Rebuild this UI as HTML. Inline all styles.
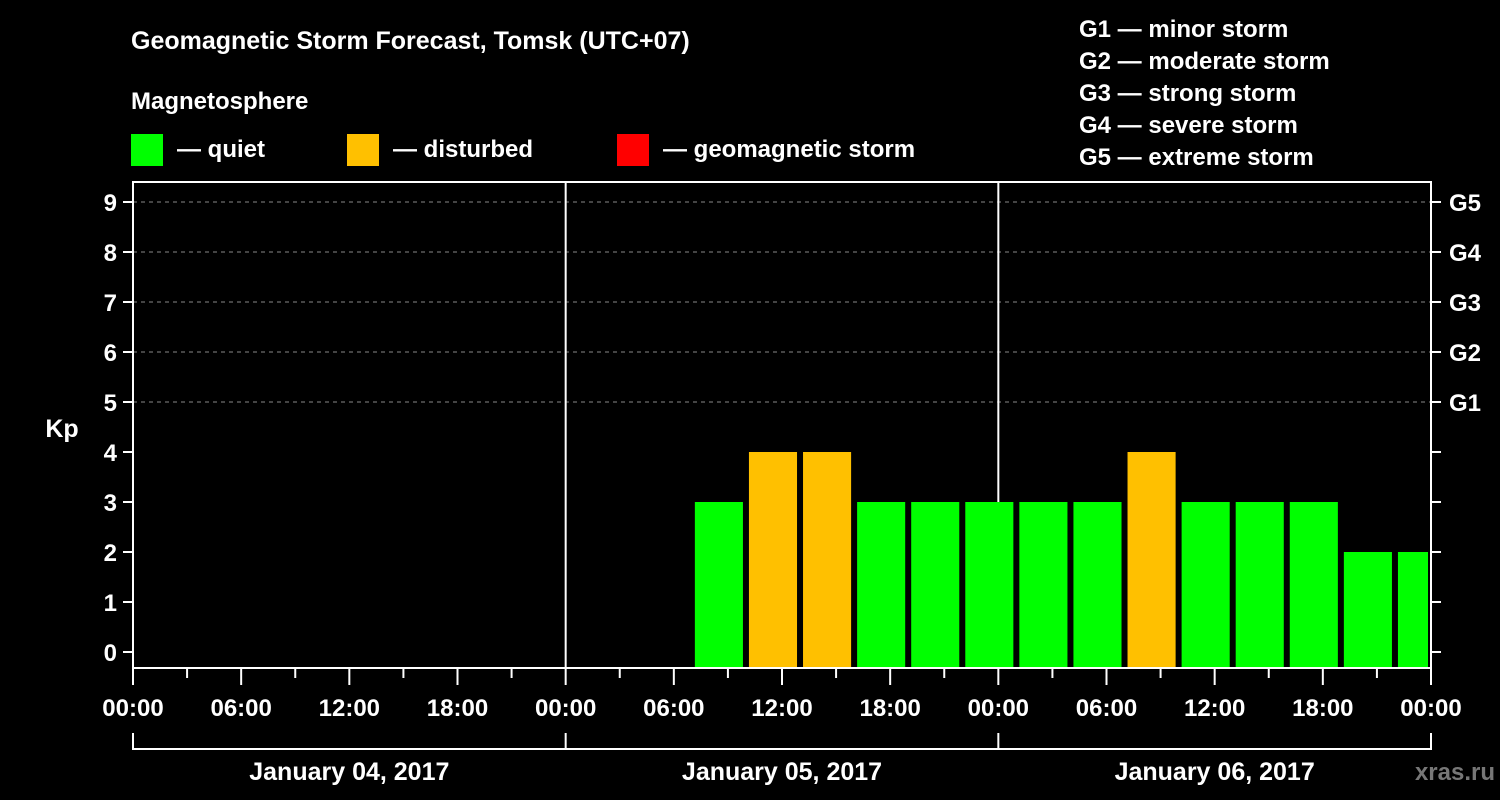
<!DOCTYPE html>
<html><head><meta charset="utf-8"><style>
html,body{margin:0;padding:0;background:#000;}
svg{display:block;font-family:"Liberation Sans",Arial,sans-serif;font-weight:bold;}
</style></head><body>
<svg width="1500" height="800" viewBox="0 0 1500 800" id="chart">
<rect x="0" y="0" width="1500" height="800" fill="#000"/>
<text x="131" y="49" fill="#fff" font-size="25">Geomagnetic Storm Forecast, Tomsk (UTC+07)</text>
<text x="131" y="109" fill="#fff" font-size="24">Magnetosphere</text>
<g><rect x="131" y="134" width="32" height="32" fill="#00ff00"/><text x="177" y="157" fill="#fff" font-size="24">— quiet</text></g>
<g><rect x="347" y="134" width="32" height="32" fill="#ffc000"/><text x="393" y="157" fill="#fff" font-size="24">— disturbed</text></g>
<g><rect x="617" y="134" width="32" height="32" fill="#ff0000"/><text x="663" y="157" fill="#fff" font-size="24">— geomagnetic storm</text></g>
<g font-size="24" fill="#fff">
<text x="1079" y="37">G1 — minor storm</text>
<text x="1079" y="69">G2 — moderate storm</text>
<text x="1079" y="101">G3 — strong storm</text>
<text x="1079" y="133">G4 — severe storm</text>
<text x="1079" y="165">G5 — extreme storm</text>
</g>
<text x="62" y="437" fill="#fff" font-size="25" text-anchor="middle">Kp</text>
<g id="grid"></g>
<g id="bars"></g>
<g id="axes"></g>
<text x="1495" y="780" fill="#777" font-size="24" text-anchor="end">xras.ru</text>
</svg>
<script>
const kpValues = [3,4,4,3,3,3,3,3,4,3,3,3,2,2];
const startHour = 31; // first 3h slot begins Jan 05 07:00 local (hours from Jan 04 00:00)
const yTicks = [0,1,2,3,4,5,6,7,8,9];
const gLabels = ["G1","G2","G3","G4","G5"];
const xLabels = ["00:00","06:00","12:00","18:00","00:00","06:00","12:00","18:00","00:00","06:00","12:00","18:00","00:00"];
const dateLabels = ["January 04, 2017","January 05, 2017","January 06, 2017"];

const NS="http://www.w3.org/2000/svg";
const X0=133,X1=1431,YT=182,YB=668;
const x=h=>X0+(h/72)*(X1-X0);
const y=v=>652-v*50;
function mk(tag,attrs,parent){const e=document.createElementNS(NS,tag);for(const k in attrs)e.setAttribute(k,attrs[k]);parent.appendChild(e);return e;}
const grid=document.getElementById('grid'),bars=document.getElementById('bars'),axes=document.getElementById('axes');

for(let v=5;v<=9;v++){
  const l=mk('line',{x1:X0,x2:X1,y1:y(v),y2:y(v),stroke:'#888','stroke-width':1,'stroke-dasharray':'4,4'},grid);
  
  
}
[24,48].forEach(h=>{
  const l=mk('line',{x1:x(h),x2:x(h),y1:YT,y2:YB,stroke:'#fff','stroke-width':2},grid);
  
  
});

kpValues.forEach((v,i)=>{
  const h0=startHour+i*3;
  const xa=x(h0)+3;
  const xb=Math.min(x(h0+3)-3,x(72)-3);
  const col=v>=5?'#ff0000':(v>=4?'#ffc000':'#00ff00');
  const r=mk('rect',{x:xa,y:y(v),width:xb-xa,height:YB-1-y(v),fill:col},bars);
  
  
});

const frame=mk('rect',{x:X0,y:YT,width:X1-X0,height:YB-YT,fill:'none',stroke:'#fff','stroke-width':2},axes);



yTicks.forEach(v=>{
  mk('line',{x1:X0-10,x2:X0,y1:y(v),y2:y(v),stroke:'#fff','stroke-width':2},axes);
  mk('line',{x1:X1,x2:X1+10,y1:y(v),y2:y(v),stroke:'#fff','stroke-width':2},axes);
  const t=mk('text',{x:117,y:y(v)+9,fill:'#fff','font-size':24,'text-anchor':'end'},axes);
  t.textContent=v;
  
  
});
gLabels.forEach((g,i)=>{
  const t=mk('text',{x:1449,y:y(5+i)+9,fill:'#fff','font-size':24},axes);
  t.textContent=g;
  
  
});
for(let h=0;h<=72;h+=3){
  const major=h%6===0;
  mk('line',{x1:x(h),x2:x(h),y1:YB,y2:major?685:678,stroke:'#fff','stroke-width':2},axes);
}
xLabels.forEach((s,i)=>{
  const t=mk('text',{x:x(i*6),y:716,fill:'#fff','font-size':24,'text-anchor':'middle'},axes);
  t.textContent=s;
  
  
});
mk('line',{x1:X0,x2:X1,y1:749,y2:749,stroke:'#fff','stroke-width':2},axes);
[0,24,48,72].forEach(h=>mk('line',{x1:x(h),x2:x(h),y1:733,y2:750,stroke:'#fff','stroke-width':2},axes));
dateLabels.forEach((s,i)=>{
  const t=mk('text',{x:x(i*24+12),y:780,fill:'#fff','font-size':25,'text-anchor':'middle'},axes);
  t.textContent=s;
  
  
});
</script>
</body></html>
